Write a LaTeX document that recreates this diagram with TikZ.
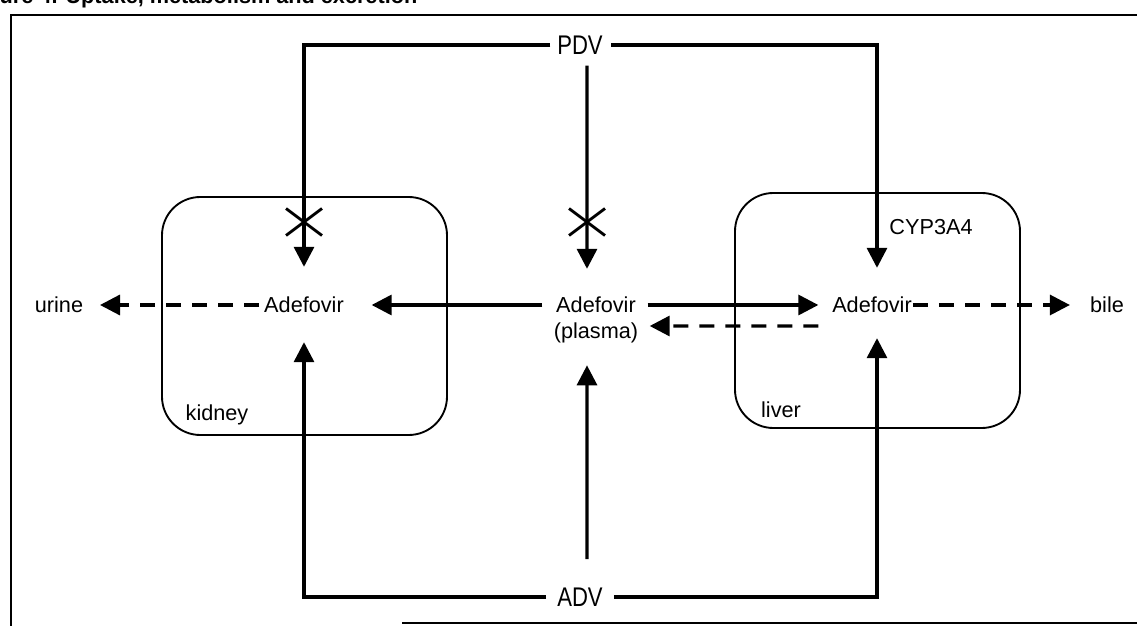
\documentclass[tikz,border=0pt]{standalone}
\usepackage{fontspec}
\setmainfont{Liberation Sans}
\usetikzlibrary{arrows.meta}
\begin{document}
\begin{tikzpicture}[x=0.03cm,y=-0.03cm,
  lbl/.style={inner sep=0pt,font=\fontsize{18.5}{22}\selectfont},
  big/.style={inner sep=0pt,font=\fontsize{23}{27}\selectfont},
  conn/.style={line width=2.8pt,-{Triangle[length=0.6cm,width=0.6cm]}},
  dconn/.style={conn,dash pattern=on 0.45cm off 0.33cm},
  organ/.style={line width=1.6pt,rounded corners=1.15cm},
  frameline/.style={line width=1.5pt},
  cross/.style={line width=2.4pt}]
\useasboundingbox (0,0) rectangle (1137,626);
\fill[white] (0,0) rectangle (1137,626);

% clipped title
\node[anchor=base west,inner sep=0pt,font=\bfseries\fontsize{18.5}{22}\selectfont] (title) at (-33,4) {Figure 4. Uptake, metabolism and excretion};

% frame
\draw[frameline] (1137,15) -- (11,15) -- (11,626);
\draw[frameline] (402,623) -- (1137,623);

% organ boxes
\draw[organ] (162,197) rectangle (447,435);
\draw[organ] (735,193) rectangle (1020,428);

% text nodes
\node[big] (PDV) at (580,45) {\scalebox{0.82}[1]{PDV}};
\node[big] (ADV) at (580,597) {\scalebox{0.82}[1]{ADV}};
\node[lbl] (kA) at (304,305) {Adefovir};
\node[lbl] (pA) at (596,305) {Adefovir};
\node[lbl] (pP) at (596,333) {(plasma)};
\node[lbl] (lA) at (872,305) {Adefovir};
\node[lbl] (urine) at (59,305) {urine};
\node[lbl] (bile) at (1107,305) {bile};
\node[lbl] (kidney) at (217,415) {kidney};
\node[lbl] (liver) at (781,410) {liver};
\node[lbl] (cyp) at (931,227) {CYP3A4};

% PDV connectors
\draw[conn,shorten <=0.2cm,shorten >=0.9cm] (PDV.west) -| (kA.north);
\draw[conn,shorten <=0.33cm,shorten >=0.84cm] ([xshift=0.21cm]PDV.south) -- ([xshift=-0.27cm]pA.north);
\draw[conn,shorten <=0.25cm,shorten >=0.87cm] (PDV.east) -| ([xshift=0.15cm]lA.north);

% blocked uptake marks
\coordinate (kx) at (304,222);
\coordinate (px) at (587,222);
\draw[cross] (kx) +(-18,-13.5) -- +(18,13.5) (kx) +(-18,13.5) -- +(18,-13.5);
\draw[cross] (px) +(-18,-13.5) -- +(18,13.5) (px) +(-18,13.5) -- +(18,-13.5);

% ADV connectors
\draw[conn,shorten <=0.33cm,shorten >=0.87cm] (ADV.west) -| (kA.south);
\draw[conn,shorten <=0.85cm,shorten >=0.66cm] ([xshift=0.21cm]ADV.north) -- ([xshift=-0.27cm]pP.south);
\draw[conn,shorten <=0.33cm,shorten >=0.75cm] (ADV.east) -| ([xshift=0.15cm]lA.south);

% plasma exchanges
\draw[conn,shorten <=0.41cm,shorten >=0.83cm] (pA.west) -- (kA.east);
\draw[conn,shorten <=0.35cm,shorten >=0.41cm] (pA.east) -- (lA.west);
\draw[dconn,shorten <=0.41cm,shorten >=0.34cm] ([yshift=-0.63cm]lA.west) -- ([yshift=0.21cm]pP.east);

% excretion
\draw[dconn,shorten <=0.15cm,shorten >=0.5cm] (kA.west) -- (urine.east);
\draw[dconn,shorten <=0.03cm,shorten >=0.6cm] (lA.east) -- (bile.west);
\end{tikzpicture}
\end{document}
